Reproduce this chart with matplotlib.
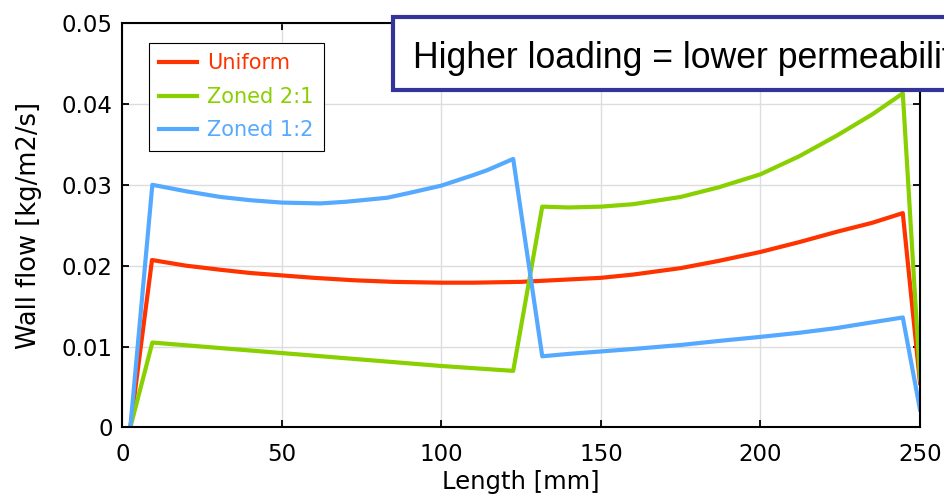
import matplotlib
matplotlib.use("Agg")
import matplotlib.pyplot as plt
from matplotlib.patches import Rectangle

# Values
length_uniform = [2.5, 9.3, 20, 30.7, 40, 50, 60, 72.5, 85, 100, 110, 124.8, 140,
                  150, 160, 175, 187, 200, 212, 224, 235, 244.6, 250]
flow_uniform = [0.0, 0.0207, 0.0200, 0.0195, 0.0191, 0.0188, 0.0185, 0.0182, 0.0180,
                0.0179, 0.0179, 0.0180, 0.0183, 0.0185, 0.0189, 0.0197, 0.0206,
                0.0217, 0.0229, 0.0242, 0.0253, 0.0265, 0.0055]

length_zoned21 = [2.5, 9.4, 50, 100, 122.5, 131.6, 140, 150, 160, 175, 187, 200,
                  212, 224, 235, 244.6, 250]
flow_zoned21 = [0.0, 0.0105, 0.0092, 0.0076, 0.0070, 0.0273, 0.0272, 0.0273, 0.0276,
                0.0285, 0.0297, 0.0313, 0.0335, 0.0361, 0.0387, 0.0413, 0.0060]

length_zoned12 = [2.5, 9.4, 20, 30.7, 40, 50, 62, 70, 83, 90, 100, 110, 114.3, 122.5,
                  131.6, 140, 150, 160, 175, 187, 200, 212, 224, 235, 244.6, 250]
flow_zoned12 = [0.0, 0.0300, 0.0292, 0.0285, 0.0281, 0.0278, 0.0277, 0.0279, 0.0284,
                0.0290, 0.0299, 0.0312, 0.0318, 0.0332, 0.0088, 0.0091, 0.0094,
                0.0097, 0.0102, 0.0107, 0.0112, 0.0117, 0.0123, 0.0130, 0.0136, 0.0022]

x_ticks = [0, 50, 100, 150, 200, 250]
y_ticks = [0, 0.01, 0.02, 0.03, 0.04, 0.05]
y_tick_labels = ["0", "0.01", "0.02", "0.03", "0.04", "0.05"]

fig = plt.figure(figsize=(9.44, 4.95), dpi=100)
ax = fig.add_axes([0.1296, 0.1364, 0.845, 0.8171])

ax.plot(length_uniform, flow_uniform, color="#ff3300", lw=3, label="Uniform")
ax.plot(length_zoned21, flow_zoned21, color="#88d000", lw=3, label="Zoned 2:1")
ax.plot(length_zoned12, flow_zoned12, color="#55aaff", lw=3, label="Zoned 1:2")

ax.set_xlim(0, 250)
ax.set_ylim(0, 0.05)
ax.set_xticks(x_ticks)
ax.set_yticks(y_ticks)
ax.set_yticklabels(y_tick_labels)
ax.tick_params(direction="in", length=5, width=1.3, labelsize=16.5,
               top=True, right=True)
ax.tick_params(axis="x", pad=11)
ax.tick_params(axis="y", pad=7)
ax.grid(color="#dddddd", lw=1)
ax.set_axisbelow(True)
for s in ax.spines.values():
    s.set_linewidth(1.5)

ax.set_xlabel("Length [mm]", fontsize=17.5, labelpad=3)
ax.set_ylabel("Wall flow [kg/m2/s]", fontsize=18.5, labelpad=14)

leg = ax.legend(loc="upper left", bbox_to_anchor=(0.0335, 0.9506),
                fontsize=15, labelcolor="linecolor", fancybox=False,
                edgecolor="black", framealpha=1, handlelength=1.8,
                handletextpad=0.5, labelspacing=0.65, borderpad=0.5,
                borderaxespad=0)
leg.get_frame().set_linewidth(0.8)

# annotation box running off the right edge, as in the reference
box = Rectangle((0.4165, 0.818), 0.65, 0.1477, transform=fig.transFigure,
                facecolor="white", edgecolor="#333399", lw=3, zorder=10,
                clip_on=False)
fig.patches.append(box)
fig.text(0.4375, 0.8626, "Higher loading = lower permeability",
         fontsize=25.7, family="Liberation Sans", va="baseline", zorder=11)

fig.savefig("out.png", dpi=100)
